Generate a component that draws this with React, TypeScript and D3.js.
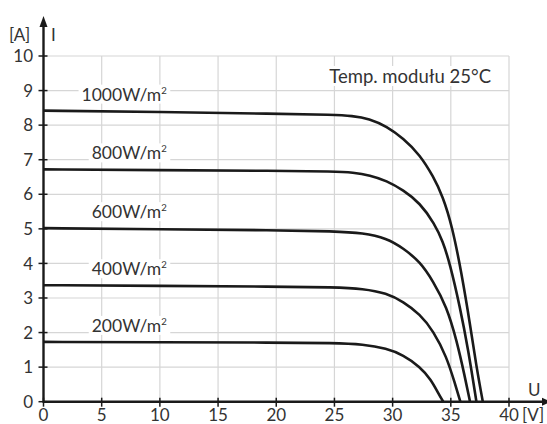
import React, { useRef, useEffect } from "react";
import * as d3 from "d3";

// axis ticks
const uTicks = [0, 5, 10, 15, 20, 25, 30, 35, 40];
const iTicks = [0, 1, 2, 3, 4, 5, 6, 7, 8, 9, 10];

// I-U curves (U in V, I in A)
const u1000 = [0, 10, 20, 25, 26.5, 28, 29.5, 30.9, 32.35, 33.5, 34.3, 35.1, 35.93, 36.64, 37.2, 37.75];
const i1000 = [8.42, 8.38, 8.33, 8.3, 8.27, 8.19, 7.96, 7.62, 7.14, 6.51, 5.95, 5.1, 3.71, 2.27, 1.01, 0];

const u800 = [0, 10, 20, 25, 26.6, 28.05, 29.48, 30.91, 32.35, 33.6, 34.3, 34.92, 35.78, 36.5, 37.2];
const i800 = [6.72, 6.7, 6.68, 6.66, 6.63, 6.55, 6.39, 6.12, 5.75, 5.15, 4.65, 4.0, 2.75, 1.5, 0];

const u600 = [0, 10, 20, 25, 27.47, 29.48, 30.91, 32.35, 33.49, 34.64, 35.5, 36.21, 36.65];
const i600 = [5.02, 4.99, 4.96, 4.93, 4.88, 4.73, 4.44, 4.05, 3.48, 2.75, 1.78, 0.72, 0];

const u400 = [0, 10, 20, 25, 27.47, 29.48, 30.91, 32.35, 33.49, 34.64, 35.35, 35.82];
const i400 = [3.37, 3.35, 3.33, 3.31, 3.27, 3.14, 2.89, 2.53, 2.05, 1.3, 0.53, 0];

const u200 = [0, 10, 20, 25, 27.47, 29.48, 30.91, 32.35, 33.3, 33.9, 34.35];
const i200 = [1.73, 1.72, 1.71, 1.7, 1.66, 1.54, 1.35, 1.01, 0.64, 0.26, 0];

const irradiance = ["1000", "800", "600", "400", "200"];
const curvesU = [u1000, u800, u600, u400, u200];
const curvesI = [i1000, i800, i600, i400, i200];

const title = "Temp. modułu 25°C";

const W = 547;
const H = 424;
const FONT = "Lato, 'Open Sans', sans-serif";

function IUChart() {
  const svgRef = useRef(null);

  useEffect(() => {
    const svg = d3.select(svgRef.current);
    svg.selectAll("*").remove();

    const x = d3.scaleLinear().domain([0, 40]).range([43.5, 509]);
    const y = d3.scaleLinear().domain([0, 10]).range([401.7, 56]);

    // grid
    const grid = svg.append("g").attr("stroke", "#d6d6d6").attr("stroke-width", 1.2);
    grid
      .selectAll(".vg")
      .data(uTicks.filter((d) => d > 0))
      .join("line")
      .attr("x1", (d) => x(d))
      .attr("x2", (d) => x(d))
      .attr("y1", y(0))
      .attr("y2", y(10));
    grid
      .selectAll(".hg")
      .data(iTicks.filter((d) => d > 0))
      .join("line")
      .attr("x1", x(0))
      .attr("x2", x(40))
      .attr("y1", (d) => y(d))
      .attr("y2", (d) => y(d));

    // labels with white background (drawn before curves)
    const addLabel = (g, xs, ys, anchor, size, main, sup) => {
      const t = g
        .append("text")
        .attr("x", xs)
        .attr("y", ys)
        .attr("text-anchor", anchor)
        .attr("font-family", FONT)
        .attr("font-size", size)
        .attr("fill", "#333");
      t.append("tspan").text(main);
      if (sup) t.append("tspan").attr("dy", -7).attr("font-size", size * 0.55).text(sup);
      const bb = t.node().getBBox();
      g.insert("rect", "text")
        .attr("x", bb.x - 3)
        .attr("y", bb.y + 1)
        .attr("width", bb.width + 6)
        .attr("height", bb.height - 2)
        .attr("fill", "#fff");
    };

    const labels = svg.append("g");
    curvesI.forEach((ic, k) => {
      const lg = labels.append("g");
      addLabel(lg, x(10.6), y(ic[0]) - 10, "end", 17.5, irradiance[k] + "W/m", "2");
    });
    addLabel(labels.append("g"), 491, 83, "end", 18.5, title, null);

    // curves
    const line = d3
      .line()
      .x((d) => x(d[0]))
      .y((d) => y(d[1]))
      .curve(d3.curveBasis);

    svg
      .append("g")
      .selectAll("path")
      .data(curvesU.map((uc, k) => uc.map((u, j) => [u, curvesI[k][j]])))
      .join("path")
      .attr("d", line)
      .attr("fill", "none")
      .attr("stroke", "#1a1a1a")
      .attr("stroke-width", 2.6);

    // axes
    const ax = svg.append("g").attr("stroke", "#1a1a1a");
    ax.append("line")
      .attr("x1", x(0)).attr("x2", W + 2)
      .attr("y1", y(0)).attr("y2", y(0))
      .attr("stroke-width", 2.4);
    ax.append("line")
      .attr("x1", x(0)).attr("x2", x(0))
      .attr("y1", y(0) + 1).attr("y2", 24)
      .attr("stroke-width", 2.4);
    ax.append("path")
      .attr("d", `M${x(0)},16 L${x(0) - 4},27 L${x(0) + 4},27 Z`)
      .attr("fill", "#1a1a1a")
      .attr("stroke", "none");
    ax.append("path")
      .attr("d", `M${W + 4},${y(0)} L${W - 5},${y(0) - 4} L${W - 5},${y(0) + 4} Z`)
      .attr("fill", "#1a1a1a")
      .attr("stroke", "none");

    ax.selectAll(".xt")
      .data(uTicks)
      .join("line")
      .attr("x1", (d) => x(d)).attr("x2", (d) => x(d))
      .attr("y1", y(0) - 4).attr("y2", y(0) + 5)
      .attr("stroke-width", 1.5);
    ax.selectAll(".yt")
      .data(iTicks)
      .join("line")
      .attr("x1", x(0) - 5).attr("x2", x(0) + 4)
      .attr("y1", (d) => y(d)).attr("y2", (d) => y(d))
      .attr("stroke-width", 1.5);

    // tick labels
    const tl = svg
      .append("g")
      .attr("font-family", FONT)
      .attr("font-size", 17)
      .attr("fill", "#333");
    tl.selectAll(".xl")
      .data(uTicks)
      .join("text")
      .attr("x", (d) => x(d))
      .attr("y", 421)
      .attr("text-anchor", "middle")
      .text((d) => d);
    tl.selectAll(".yl")
      .data(iTicks)
      .join("text")
      .attr("x", 33)
      .attr("y", (d) => y(d))
      .attr("dy", "0.36em")
      .attr("text-anchor", "end")
      .text((d) => d);

    // axis names
    tl.append("text").attr("x", 9).attr("y", 41).text("[A]");
    tl.append("text").attr("x", 51).attr("y", 41).text("I");
    tl.append("text").attr("x", 528).attr("y", 396).text("U");
    tl.append("text").attr("x", 522).attr("y", 421).text("[V]");
  }, []);

  return (
    <svg
      ref={svgRef}
      width={W}
      height={H}
      style={{ position: "absolute", left: 0, top: 0, background: "#fff" }}
    ></svg>
  );
}

export default function App() {
  return <IUChart />;
}
